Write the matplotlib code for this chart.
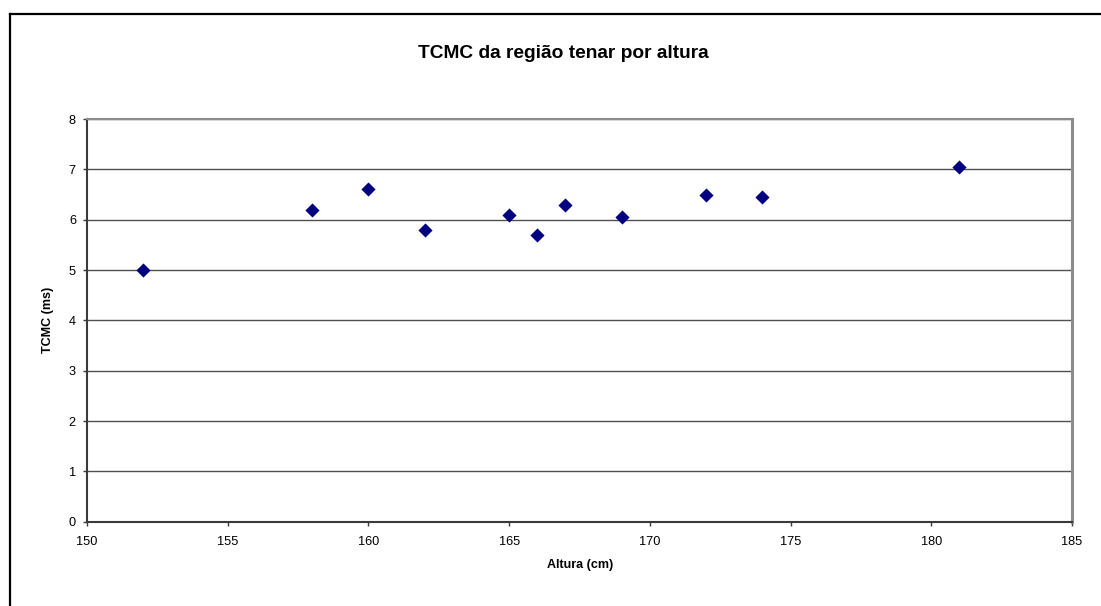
import matplotlib
matplotlib.use("Agg")
import matplotlib.pyplot as plt
from matplotlib.lines import Line2D

plt.rcParams['font.family'] = ['Liberation Sans', 'DejaVu Sans']

# altura (cm) x TCMC (ms)
altura = [152, 158, 160, 162, 165, 166, 167, 169, 172, 174, 181]
tcmc = [5.0, 6.2, 6.6, 5.8, 6.1, 5.7, 6.3, 6.05, 6.5, 6.45, 7.05]

x_ticks = [150, 155, 160, 165, 170, 175, 180, 185]
y_ticks = [0, 1, 2, 3, 4, 5, 6, 7, 8]

W, H = 1101, 606
fig = plt.figure(figsize=(W / 100, H / 100), dpi=100)
fig.patch.set_facecolor('white')

# chart frame (only left and top edges fall inside the image)
fig.add_artist(Line2D([10 / W, 10 / W], [0, 1 - 14 / H], transform=fig.transFigure,
                      color='black', lw=1.6))
fig.add_artist(Line2D([10 / W, 1], [1 - 14 / H, 1 - 14 / H], transform=fig.transFigure,
                      color='black', lw=1.6))

left, right, top, bottom = 87, 1072, 119, 521.7
ax = fig.add_axes([left / W, (H - bottom) / H, (right - left) / W, (bottom - top) / H])

ax.scatter(altura, tcmc, marker='D', s=52, color='#000080', zorder=3, linewidths=0)

ax.set_xlim(150, 185)
ax.set_ylim(0, 8)
ax.set_xticks(x_ticks)
ax.set_yticks(y_ticks)
ax.yaxis.grid(True, color='#505050', lw=1.0)
ax.set_axisbelow(True)

for s in ('left', 'bottom'):
    ax.spines[s].set_color('#3a3a3a')
    ax.spines[s].set_linewidth(1.5)
ax.spines['top'].set_color('#8c8c8c')
ax.spines['top'].set_linewidth(1.5)
ax.spines['right'].set_color('#8c8c8c')
ax.spines['right'].set_linewidth(2.2)

ax.tick_params(axis='both', labelsize=9.2, color='#3a3a3a', width=1, length=3)
ax.tick_params(axis='x', pad=7)
ax.tick_params(axis='y', pad=5)

fig.text(563 / W, 1 - 54 / H, 'TCMC da região tenar por altura', ha='center', va='center',
         fontsize=13.8, fontweight='bold')
fig.text(580 / W, 1 - 565 / H, 'Altura (cm)', ha='center', va='center',
         fontsize=9, fontweight='bold')
fig.text(48 / W, 1 - 320 / H, 'TCMC (ms)', ha='center', va='center', rotation=90,
         fontsize=9, fontweight='bold')

fig.savefig('out.png', dpi=100)
